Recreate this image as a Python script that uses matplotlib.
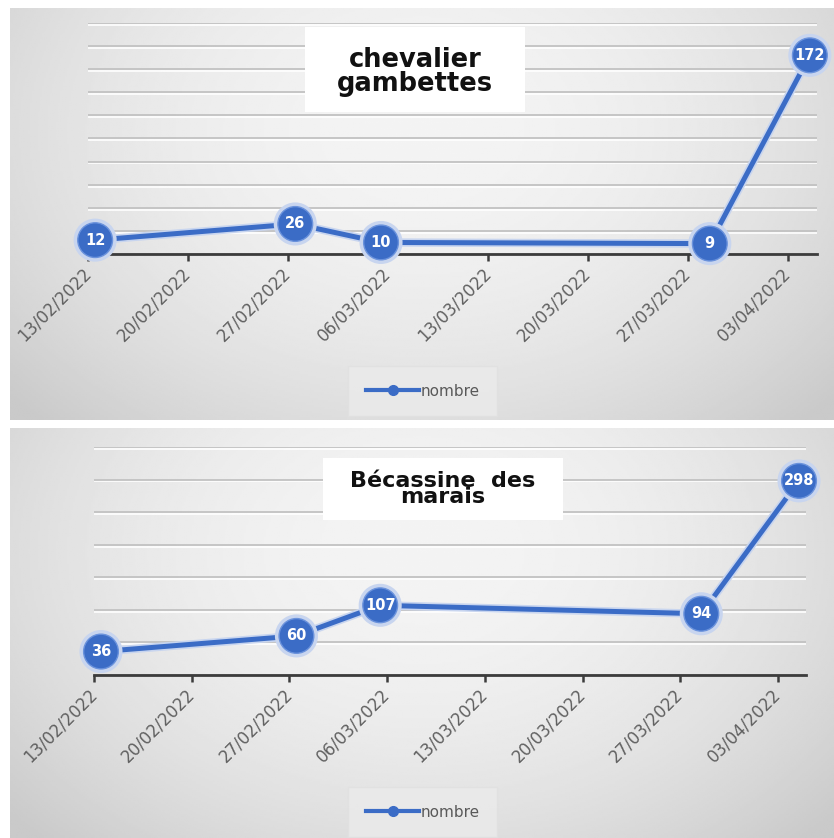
import matplotlib
matplotlib.use("Agg")
import matplotlib.pyplot as plt
import matplotlib.dates as mdates
import matplotlib.patheffects as pe
from matplotlib.lines import Line2D
from matplotlib.patches import Rectangle
from datetime import datetime
import numpy as np

# comptages relevés à chaque sortie
dates_chevalier = ["13/02/2022", "27/02/2022", "05/03/2022", "28/03/2022", "04/04/2022"]
nombre_chevalier = [12, 26, 10, 9, 172]

dates_becassine = ["13/02/2022", "27/02/2022", "05/03/2022", "28/03/2022", "04/04/2022"]
nombre_becassine = [36, 60, 107, 94, 298]

tick_dates = ["13/02/2022", "20/02/2022", "27/02/2022", "06/03/2022",
              "13/03/2022", "20/03/2022", "27/03/2022", "03/04/2022"]
x_start = "13/02/2022"
x_end = "05/04/2022"

BLUE = "#3b6cc6"
W, H = 834, 838


def to_num(d):
    return mdates.date2num(datetime.strptime(d, "%d/%m/%Y"))


def px_rect(x0, y0, x1, y1):
    # pixel box (top-left origin) -> figure fraction rect
    return [x0 / W, (H - y1) / H, (x1 - x0) / W, (y1 - y0) / H]


def background(fig, rect):
    bg = fig.add_axes(rect)
    yy, xx = np.mgrid[0:1:200j, 0:1:400j]
    r = np.sqrt(((xx - 0.5) / 0.62) ** 2 + ((yy - 0.3) / 0.9) ** 2)
    v = np.clip(0.955 - 0.14 * r ** 2, 0.79, 1)
    bg.imshow(v, cmap="gray", vmin=0, vmax=1, extent=[0, 1, 0, 1], aspect="auto")
    bg.set_axis_off()


def panel(fig, ax_rect, dates, values, ymax, ystep, title, title_rect, title_xy,
          title_size, title_spacing, legend_y):
    ax = fig.add_axes(ax_rect)
    ax.set_facecolor("none")

    # points centered in their day slot
    x = [to_num(d) + 0.5 for d in dates]
    line, = ax.plot(x, values, color=BLUE, lw=3.6, marker="o", markersize=25,
                    markerfacecolor=BLUE, markeredgecolor="#6a92dc", markeredgewidth=1,
                    clip_on=False, zorder=4)
    line.set_path_effects([pe.Stroke(linewidth=6, foreground="#c8d5ef"), pe.Normal()])
    for xi, v in zip(x, values):
        ax.text(xi, v, str(v), color="white", fontsize=10.5, fontweight="bold",
                ha="center", va="center", zorder=5, clip_on=False)

    ax.set_xlim(to_num(x_start), to_num(x_end))
    ax.set_ylim(0, ymax)
    ax.set_yticks(np.arange(0, ymax + 1, ystep))
    ax.set_xticks([to_num(d) for d in tick_dates])
    ax.set_xticklabels(tick_dates)
    for lbl in ax.get_xticklabels():
        lbl.set_rotation(45)
        lbl.set_ha("right")
        lbl.set_va("center")
        lbl.set_rotation_mode("anchor")
    ax.tick_params(axis="x", colors="#3c3c3c", labelcolor="#606060", labelsize=12,
                   length=5, width=1.8, pad=7)
    ax.tick_params(axis="y", left=False, labelleft=False)

    ax.grid(axis="y", color="#c2c2c2", lw=1.3)
    for gl in ax.yaxis.get_gridlines():
        gl.set_path_effects([pe.SimpleLineShadow(offset=(0, -1.3), shadow_color="white", alpha=0.9),
                             pe.Normal()])
    for s in ["left", "right", "top"]:
        ax.spines[s].set_visible(False)
    ax.spines["bottom"].set_color("#3c3c3c")
    ax.spines["bottom"].set_linewidth(2)
    ax.set_axisbelow(True)

    # title in a white box over the grid
    fig.add_artist(Rectangle(title_rect[:2], title_rect[2], title_rect[3],
                             transform=fig.transFigure, facecolor="white",
                             edgecolor="none", zorder=6))
    fig.text(title_xy[0], title_xy[1], title, ha="center", va="center",
             fontsize=title_size, fontweight="bold", color="#111111",
             linespacing=title_spacing, zorder=7)

    handle = Line2D([], [], color=BLUE, lw=3, marker="o", markersize=7,
                    markerfacecolor=BLUE, markeredgecolor=BLUE)
    leg = fig.legend([handle], ["nombre"], loc="center", bbox_to_anchor=(0.507, legend_y),
                     fontsize=11, frameon=True, fancybox=False, facecolor="#ebebeb",
                     edgecolor="#e0e0e0", handlelength=3.5, handletextpad=0.1,
                     borderpad=1.15)
    for t in leg.get_texts():
        t.set_color("#595959")
    return ax


fig = plt.figure(figsize=(W / 100, H / 100), dpi=100)
fig.patch.set_facecolor("white")

background(fig, px_rect(10, 8, W, 420))
background(fig, px_rect(10, 428, W, H))

panel(fig, px_rect(88, 23, 817, 254), dates_chevalier, nombre_chevalier, 200, 20,
      "chevalier\ngambettes", px_rect(305, 27, 525, 112), (415 / W, (H - 72) / H),
      18.5, 0.88, (H - 391) / H)

panel(fig, px_rect(94, 447, 806, 675), dates_becassine, nombre_becassine, 350, 50,
      "Bécassine  des\nmarais", px_rect(323, 458, 563, 520), (443 / W, (H - 489) / H),
      16, 0.76, (H - 812) / H)

fig.savefig("out.png", dpi=100)
